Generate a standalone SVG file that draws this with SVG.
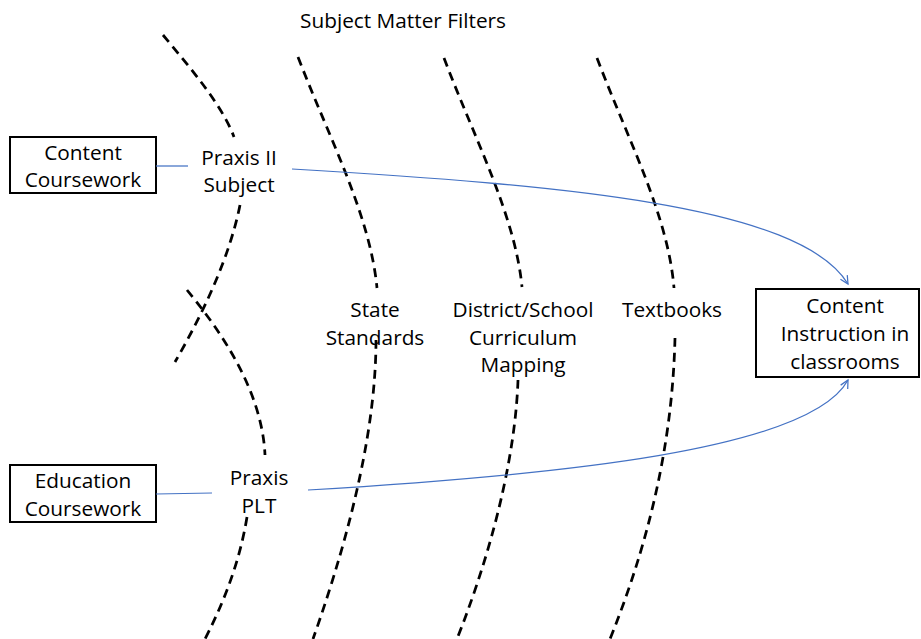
<svg xmlns="http://www.w3.org/2000/svg" width="921" height="639" viewBox="0 0 921 639">
<defs>
<style>
text{font-family:"Open Sans","Liberation Sans",sans-serif;font-size:20.8px;fill:#000;text-anchor:middle}
.filter{fill:none;stroke:#000;stroke-width:2.75;stroke-dasharray:9 6}
.box{fill:#fff;stroke:#000;stroke-width:2}
.conn{fill:none;stroke:#4472C4;stroke-width:1.25}
</style>
<marker id="arr" markerUnits="userSpaceOnUse" markerWidth="12" markerHeight="12" refX="9" refY="5" orient="auto">
<path d="M1,1 L9,5 L1,9" fill="none" stroke="#4472C4" stroke-width="1.25"/>
</marker>
</defs>
<rect width="921" height="639" fill="#fff"/>
<text x="403" y="28">Subject Matter Filters</text>
<g id="filters">
<path class="filter" d="M163,35 C192,70 222,105 234,137"/>
<path class="filter" d="M240,205 C230,255 205,310 175,362"/>
<path class="filter" d="M187,290 C220,330 262,390 265,455"/>
<path class="filter" d="M247,517 C240,560 225,600 205,639"/>
<path class="filter" d="M298,57 C330,140 370,215 377,288"/>
<path class="filter" d="M376,340 C376,420 355,520 313,639"/>
<path class="filter" d="M444,58 C475,140 515,215 522,287"/>
<path class="filter" d="M518,380 C516,440 500,530 457,639"/>
<path class="filter" d="M597,58 C628,140 668,215 674,288"/>
<path class="filter" d="M675,338 C673,420 658,520 610,639"/>
</g>
<g id="content-coursework">
<rect class="box" x="10" y="137" width="146" height="56"/>
<text x="83" y="160">Content</text>
<text x="83" y="187">Coursework</text>
</g>
<g id="education-coursework">
<rect class="box" x="10" y="465" width="146" height="57"/>
<text x="83" y="488">Education</text>
<text x="83" y="516">Coursework</text>
</g>
<g id="content-instruction">
<rect class="box" x="756" y="289" width="163" height="88"/>
<text x="845" y="313">Content</text>
<text x="845" y="341">Instruction in</text>
<text x="845" y="369">classrooms</text>
</g>
<g id="praxis-ii">
<text x="239" y="165">Praxis II</text>
<text x="239" y="192">Subject</text>
</g>
<g id="praxis-plt">
<text x="259" y="485">Praxis</text>
<text x="259" y="513">PLT</text>
</g>
<g id="state-standards">
<text x="375" y="317">State</text>
<text x="375" y="345">Standards</text>
</g>
<g id="district">
<text x="523" y="317">District/School</text>
<text x="523" y="345">Curriculum</text>
<text x="523" y="372">Mapping</text>
</g>
<g id="textbooks">
<text x="672" y="317">Textbooks</text>
</g>
<g id="connectors">
<path class="conn" d="M156,166 L188,166"/>
<path class="conn" d="M292,169 C560,185 800,205 848,284" marker-end="url(#arr)"/>
<path class="conn" d="M156,494 L212,493"/>
<path class="conn" d="M308,490 C560,475 810,450 848,380" marker-end="url(#arr)"/>
</g>
</svg>
